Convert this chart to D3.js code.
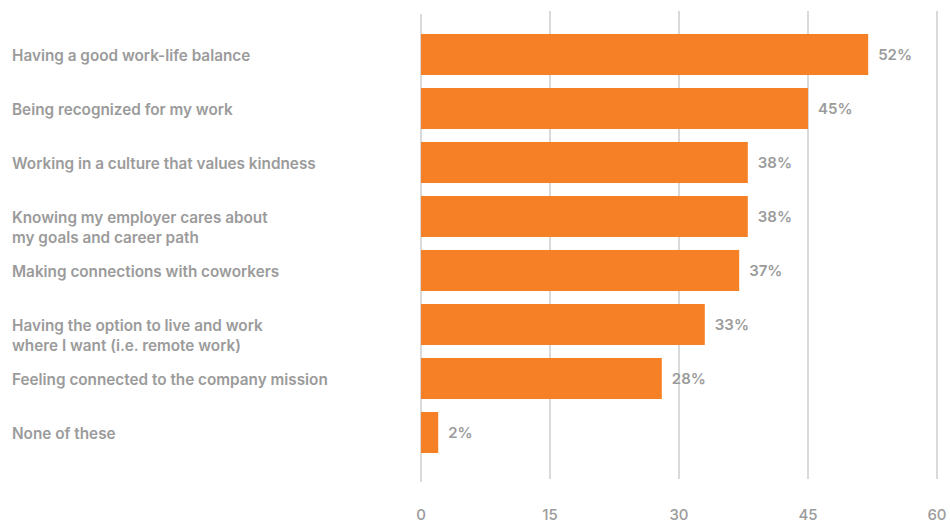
<!DOCTYPE html>
<html>
<head>
<meta charset="utf-8">
<script src="https://cdn.jsdelivr.net/npm/d3@7"></script>
<style>
  body { margin: 0; background: #fff; }
  svg { display: block; }
</style>
</head>
<body>
<div id="chart"></div>
<script>
const categories = [
  ["Having a good work-life balance"],
  ["Being recognized for my work"],
  ["Working in a culture that values kindness"],
  ["Knowing my employer cares about", "my goals and career path"],
  ["Making connections with coworkers"],
  ["Having the option to live and work", "where I want (i.e. remote work)"],
  ["Feeling connected to the company mission"],
  ["None of these"],
];
const values = [52, 45, 38, 38, 37, 33, 28, 2];
const tickValues = [0, 15, 30, 45, 60];

const width = 950, height = 524;
const FONT = "Inter, 'Open Sans', sans-serif";
const TEXT = "#9b9b9b";

const svg = d3.select("#chart").append("svg")
  .attr("width", width).attr("height", height);

const x = d3.scaleLinear().domain([0, 60]).range([421, 937]);
const y = d3.scaleBand().domain(d3.range(categories.length))
  .range([27.5, 459.5]).paddingInner(0.24).paddingOuter(0.12);

// grid lines
svg.append("g").selectAll("line")
  .data(tickValues)
  .join("line")
  .attr("x1", d => x(d)).attr("x2", d => x(d))
  .attr("y1", d => d === 0 ? 14 : 11)
  .attr("y2", d => d === 0 ? 482 : 479)
  .attr("stroke", "#b5b5b5")
  .attr("stroke-width", 1);

// bars
svg.append("g").selectAll("rect")
  .data(values)
  .join("rect")
  .attr("x", x(0))
  .attr("y", (d, i) => y(i))
  .attr("width", d => x(d) - x(0))
  .attr("height", y.bandwidth())
  .attr("fill", "#f58025");

// value labels
svg.append("g").selectAll("text")
  .data(values)
  .join("text")
  .attr("x", d => x(d) + 10)
  .attr("y", (d, i) => y(i) + y.bandwidth() / 2 + 0.5)
  .attr("dy", "0.35em")
  .attr("font-family", FONT)
  .attr("font-weight", 600)
  .attr("font-size", 15)
  .attr("fill", TEXT)
  .text(d => d + "%");

// category labels
const labels = svg.append("g").selectAll("text")
  .data(categories)
  .join("text")
  .attr("x", 12)
  .attr("y", (d, i) => y(i) + y.bandwidth() / 2 + 1)
  .attr("font-family", FONT)
  .attr("font-weight", 600)
  .attr("font-size", 15.3)
  .attr("fill", TEXT);
labels.selectAll("tspan")
  .data(d => d)
  .join("tspan")
  .attr("x", 12)
  .attr("dy", (d, i) => i === 0 ? "0.35em" : "20")
  .text(d => d);

// x tick labels
svg.append("g").selectAll("text")
  .data(tickValues)
  .join("text")
  .attr("x", d => x(d))
  .attr("y", 515)
  .attr("dy", "0.35em")
  .attr("text-anchor", "middle")
  .attr("font-family", FONT)
  .attr("font-weight", 500)
  .attr("font-size", 15)
  .attr("fill", TEXT)
  .text(d => d);
</script>
</body>
</html>
